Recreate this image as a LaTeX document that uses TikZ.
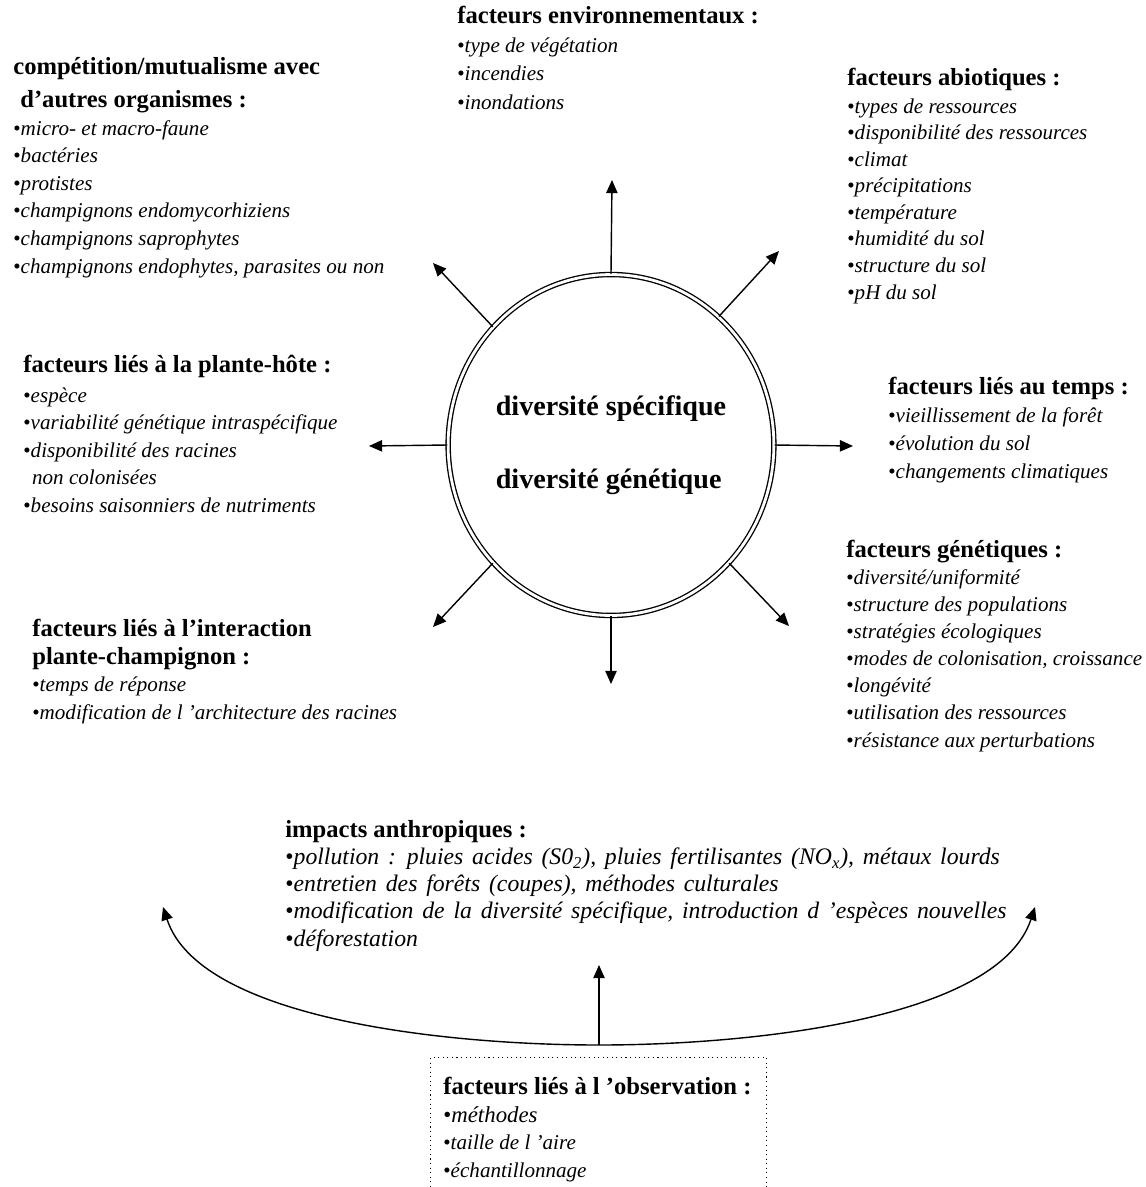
\documentclass[tikz,border=0pt]{standalone}
\usepackage{fontspec}
\setmainfont{Liberation Serif}
\usetikzlibrary{arrows.meta,shapes.geometric}
\tikzset{>={Triangle[length=7.5pt,width=6.5pt]}}
\newcommand{\titre}[1]{{\fontsize{14}{17}\selectfont\bfseries\spaceskip=0pt\relax #1}}
\newcommand{\elem}[1]{•\textit{#1}}

\begin{document}
\begin{tikzpicture}[x=0.02cm, y=-0.02cm,
    bloc/.style={anchor=base west, inner sep=0pt, align=left, font=\fontsize{12}{#1}\selectfont},
    bloc/.default=15.5pt,
    fleche/.style={->, line width=0.8pt}]
    \useasboundingbox (0,0) rectangle (1146,1187);
    \node[draw, double, double distance=1.6pt, line width=0.75pt, ellipse, minimum width=6.22cm, minimum height=6.82cm,
      inner sep=0pt, align=left, font=\fontsize{16}{19}\selectfont\bfseries] (div) at (611,445)
      {diversité spécifique\\[22.5pt]diversité génétique};
    \coordinate (pN) at (612,180);
    \coordinate (pNE) at (779,251);
    \coordinate (pNO) at (433,263);
    \coordinate (pO) at (369,446);
    \coordinate (pE) at (853,446);
    \coordinate (pSO) at (433,627);
    \coordinate (pSE) at (789,626);
    \coordinate (pS) at (611,684);
    \draw[fleche] (div.north) -- (pN);
    \draw[fleche] (div.50) -- (pNE);
    \draw[fleche] (div.135) -- (pNO);
    \draw[fleche] (div.west) -- (pO);
    \draw[fleche] (div.east) -- (pE);
    \draw[fleche] (div.225) -- (pSO);
    \draw[fleche] (div.315) -- (pSE);
    \draw[fleche] (div.south) -- (pS);

    \node[bloc=16.2pt] (envir) at (457,109) {\titre{facteurs environnementaux :}\\[0pt]
      \elem{type de végétation}\\ \elem{incendies}\\ \elem{inondations}};
    \node[bloc=15.7pt] (compet) at (13,273) {\titre{compétition/mutualisme avec}\\[3pt]
      \titre{\hspace*{4pt}d’autres organismes :}\\[0pt]
      \elem{micro- et macro-faune}\\ \elem{bactéries}\\ \elem{protistes}\\
      \elem{champignons endomycorhiziens}\\ \elem{champignons saprophytes}\\
      \elem{champignons endophytes, parasites ou non}};
    \node[bloc=15.1pt] (abio) at (847,299) {\titre{facteurs abiotiques :}\\[1pt]
      \elem{types de ressources}\\ \elem{disponibilité des ressources}\\ \elem{climat}\\
      \elem{précipitations}\\ \elem{température}\\ \elem{humidité du sol}\\
      \elem{structure du sol}\\ \elem{pH du sol}};
    \node[bloc=15.65pt] (hote) at (23,512) {\titre{facteurs liés à la plante-hôte :}\\[1pt]
      \elem{espèce}\\ \elem{variabilité génétique intraspécifique}\\
      \elem{disponibilité des racines}\\ \hspace*{5pt}\textit{non colonisées}\\
      \elem{besoins saisonniers de nutriments}};
    \node[bloc=15.9pt] (temps) at (888,478) {\titre{facteurs liés au temps :}\\[0pt]
      \elem{vieillissement de la forêt}\\ \elem{évolution du sol}\\ \elem{changements climatiques}};
    \node[bloc=15.4pt] (genet) at (846,747) {\titre{facteurs génétiques :}\\[0pt]
      \elem{diversité/uniformité}\\ \elem{structure des populations}\\ \elem{stratégies écologiques}\\
      \elem{modes de colonisation, croissance}\\ \elem{longévité}\\
      \elem{utilisation des ressources}\\ \elem{résistance aux perturbations}};
    \node[bloc=15.6pt] (inter) at (32,719) {\titre{facteurs liés à l’interaction}\\[0pt]
      \titre{plante-champignon :}\\[0pt]
      \elem{temps de réponse}\\ \elem{modification de l ’architecture des racines}};
    \node[bloc, font={\fontsize{13.5}{15.4}\selectfont\spaceskip=5pt plus 1pt\relax}] (impacts) at (285,946) {\titre{impacts anthropiques :}\\[0pt]
      \elem{pollution : pluies acides (S0\textsubscript{2}), pluies fertilisantes (NO\textsubscript{x}), métaux lourds}\\
      \elem{entretien des forêts (coupes), méthodes culturales}\\
      \elem{modification de la diversité spécifique, introduction d ’espèces nouvelles}\\
      \elem{déforestation}};

    \node[draw, dotted, line width=0.6pt, anchor=north west, minimum width=6.72cm, minimum height=3cm, inner sep=0pt] (cadre) at (430,1057) {};
    \node[bloc=15.6pt] (obs) at (443,1177) {\titre{facteurs liés à l ’observation :}\\[0pt]
      {\fontsize{13}{15.6}\selectfont\elem{méthodes}}\\ \elem{taille de l ’aire}\\ \elem{échantillonnage}};
    \coordinate (depart) at (599,1045);
    \coordinate (pI) at (599,965);
    \coordinate (pG) at (163,907);
    \coordinate (pD) at (1035,907);
    \draw[fleche] (depart) -- (pI);
    \draw[fleche] (depart) .. controls (450,1045) and (200,1020) .. (pG);
    \draw[fleche] (depart) .. controls (748,1045) and (998,1020) .. (pD);
\end{tikzpicture}
\end{document}
